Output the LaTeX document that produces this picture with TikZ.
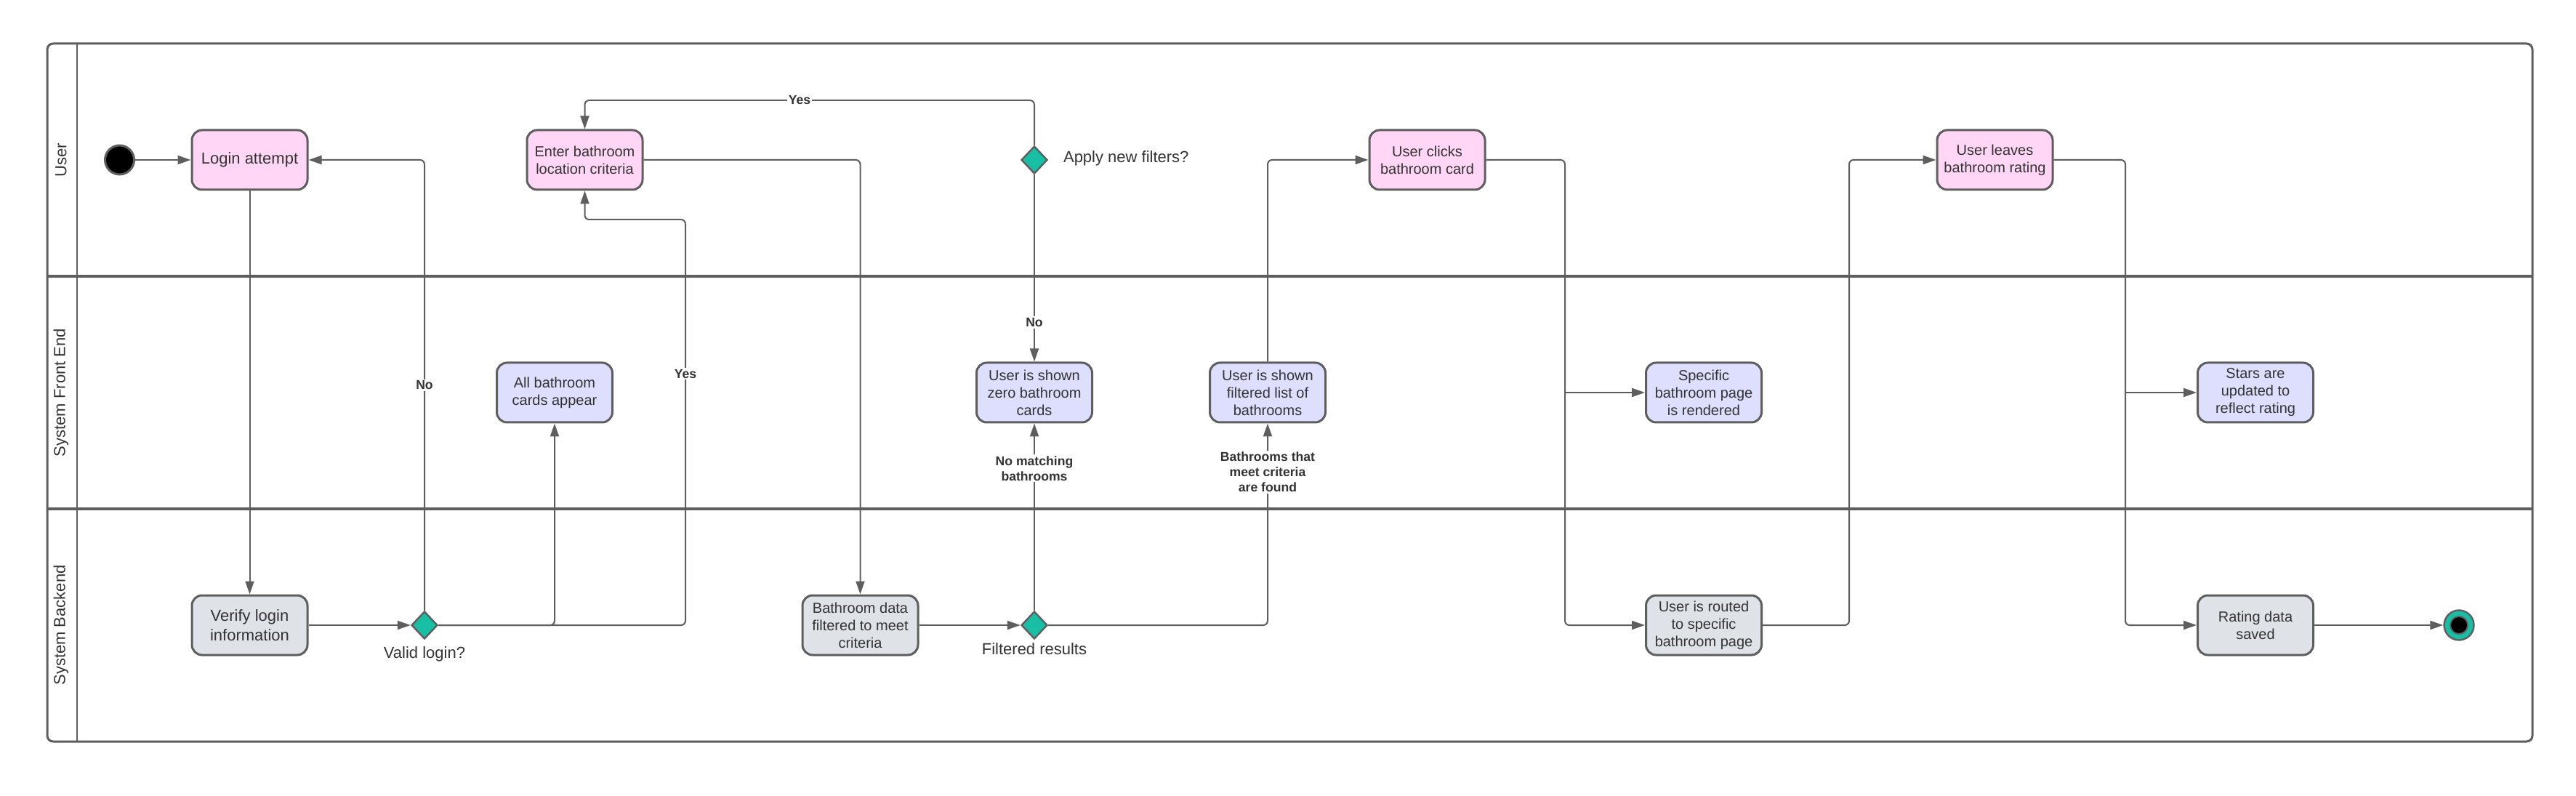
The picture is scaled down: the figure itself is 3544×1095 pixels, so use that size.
\documentclass[tikz,border=0pt]{standalone}
\usepackage{fontspec}
\setmainfont{Liberation Sans}
\usepackage{tikz}
\usetikzlibrary{arrows.meta}
\usetikzlibrary{shapes.geometric}
\usetikzlibrary{positioning}
\definecolor{linegray}{HTML}{5E5E5E}
\definecolor{textgray}{HTML}{333333}
\definecolor{userpink}{HTML}{FFD6F5}
\definecolor{frontblue}{HTML}{DEDEFF}
\definecolor{backgray}{HTML}{DFE3E8}
\definecolor{decteal}{HTML}{19BFA5}
\tikzstyle{activity} = [rectangle, draw=linegray, line width=1.5pt, rounded corners=7pt, text centered, align=center, minimum width=79.5pt, minimum height=41pt, inner sep=2pt, text=textgray, font=\fontsize{10}{12}\selectfont]
\tikzstyle{useract} = [activity, fill=userpink]
\tikzstyle{frontact} = [activity, fill=frontblue]
\tikzstyle{backact} = [activity, fill=backgray]
\tikzstyle{bigtext} = [font=\fontsize{11}{13.3}\selectfont]
\tikzstyle{decision} = [diamond, draw=linegray, line width=1.2pt, fill=decteal, minimum width=18pt, minimum height=19pt, inner sep=0pt]
\tikzstyle{decnote} = [text=textgray, font=\fontsize{11}{13}\selectfont]
\tikzstyle{flow} = [draw=linegray, line width=1pt, rounded corners=3pt, -{Triangle[length=9pt, width=6pt]}]
\tikzstyle{flowlabel} = [fill=white, text=textgray, align=center, inner sep=1pt, sharp corners, font=\bfseries\fontsize{8.8}{10.5}\selectfont]
\tikzstyle{lanetitle} = [rotate=90, text=textgray, font=\fontsize{11}{13}\selectfont]
\tikzstyle{startdot} = [circle, fill=black, draw=linegray, line width=1.5pt, minimum size=20pt, inner sep=0pt]
\tikzstyle{stopring} = [circle, fill=decteal, draw=linegray, line width=1.2pt, minimum size=20.5pt, inner sep=0pt]
\tikzstyle{stopcore} = [circle, fill=black, draw=linegray, line width=1pt, minimum size=12pt, inner sep=0pt]

\begin{document}
\begin{tikzpicture}[x=0.5pt, y=-0.5pt]
		\useasboundingbox (0,0) rectangle (3544,1095);
		% swimlanes
		\draw [draw=linegray, line width=1.5pt, rounded corners=4pt] (65,60) rectangle (3484,1020);
		\draw [draw=linegray, line width=2pt] (65,380) -- (3484,380);
		\draw [draw=linegray, line width=2pt] (65,700) -- (3484,700);
		\draw [draw=linegray, line width=1pt] (105.6,60) -- (105.6,1020);
		\node [lanetitle] (laneuser) at (84,220) {User};
		\node [lanetitle] (lanefront) at (84,540) {System Front End};
		\node [lanetitle] (laneback) at (84,860) {System Backend};
		% user lane
		\node [startdot] (start) at (164.5,220) {};
		\node [useract, bigtext] (login) at (343.5,220) {Login attempt};
		\node [useract] (enter) at (804.5,220) {Enter bathroom\\location criteria};
		\node [decision] (applyfilt) at (1423,220) {};
		\node [decnote, anchor=west] (applynote) at (1456,218) {Apply new filters?};
		\node [useract] (clicks) at (1963.5,220) {User clicks\\bathroom card};
		\node [useract] (leaves) at (2744.5,220) {User leaves\\bathroom rating};
		% front end lane
		\node [frontact] (allcards) at (763,540) {All bathroom\\cards appear};
		\node [frontact] (zero) at (1423,540) {User is shown\\zero bathroom\\cards};
		\node [frontact] (filtlist) at (1744,540) {User is shown\\filtered list of\\bathrooms};
		\node [frontact] (specific) at (2344,540) {Specific\\bathroom page\\is rendered};
		\node [frontact] (stars) at (3103,540) {Stars are\\updated to\\reflect rating};
		% backend lane
		\node [backact, bigtext] (verify) at (343.5,860) {Verify login\\information};
		\node [decision] (validlogin) at (584,860) {};
		\node [decnote] (validnote) at (584,900) {Valid login?};
		\node [backact] (bdata) at (1183.5,860) {Bathroom data\\filtered to meet\\criteria};
		\node [decision] (filtres) at (1423,860) {};
		\node [decnote] (filtnote) at (1423,893) {Filtered results};
		\node [backact] (routed) at (2344,860) {User is routed\\to specific\\bathroom page};
		\node [backact] (rating) at (3103,860) {Rating data\\saved};
		\node [stopring] (stop) at (3383,860) {};
		\node [stopcore] (stopdot) at (stop) {};
		% bend points
		\coordinate (yesturn) at (943,302);
		\coordinate (filtloop) at (1100,138);
		\coordinate (clickstrunk) at (2153,540);
		\coordinate (routedup) at (2544,540);
		\coordinate (leavestrunk) at (2924,540);
		% login flow
		\draw [flow] (start) -- (login);
		\draw [flow] (login) -- (verify);
		\draw [flow] (verify) -- (validlogin);
		\draw [flow] (validlogin.north) |- node[flowlabel, pos=0.25] {No} (login.east);
		\draw [flow] (validlogin.east) -| (allcards.south);
		\draw [flow] (validlogin.east) -| node[flowlabel, pos=0.81] {Yes} (yesturn) -| (enter.south);
		% search flow
		\draw [flow] (enter.east) -| (bdata.north);
		\draw [flow] (bdata) -- (filtres);
		\draw [flow] (filtres.north) -- node[flowlabel, pos=0.76] {No matching\\bathrooms} (zero.south);
		\draw [flow] (filtres.east) -| node[flowlabel, pos=0.88] {Bathrooms that\\meet criteria\\are found} (filtlist.south);
		\draw [flow] (applyfilt.south) -- node[flowlabel, pos=0.79] {No} (zero.north);
		\draw [flow] (applyfilt.north) |- (filtloop) node[flowlabel] {Yes} -| (enter.north);
		% bathroom page and rating
		\draw [flow] (filtlist.north) |- (clicks.west);
		\draw [flow] (clicks.east) -| (clickstrunk) |- (routed.west);
		\draw [flow] (clickstrunk) -- (specific.west);
		\draw [flow] (routed.east) -| (routedup) |- (leaves.west);
		\draw [flow] (leaves.east) -| (leavestrunk) |- (rating.west);
		\draw [flow] (leavestrunk) -- (stars.west);
		\draw [flow] (rating) -- (stop);
	\end{tikzpicture}
\end{document}
